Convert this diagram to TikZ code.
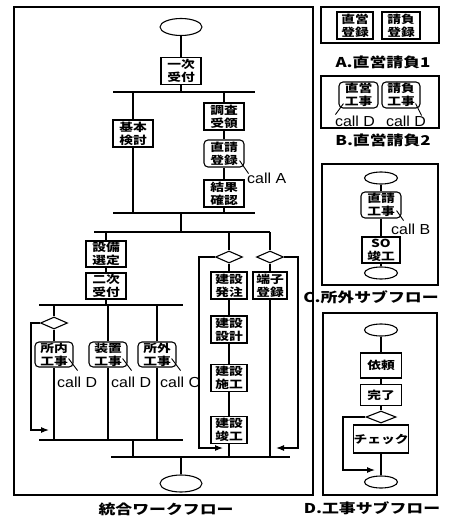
\documentclass[tikz,border=0pt]{standalone}
\usepackage{fontspec}
\usetikzlibrary{shapes.geometric,arrows.meta,calc}
\newfontfamily\jpfont[FakeStretch=1.25]{Noto Sans CJK JP}
\newfontfamily\latfont[FakeStretch=1.1]{Liberation Sans}
\newcommand\boxfont{\jpfont\bfseries\fontsize{11}{13}\selectfont}
\newcommand\callfont{\latfont\fontsize{14.5}{15}\selectfont}
\newcommand\capfont{\jpfont\bfseries\fontsize{13.5}{15}\selectfont}
\tikzset{
  ln/.style={line width=1.1pt},
  sl/.style={line width=0.9pt},
  bx/.style={draw, line width=1.1pt, fill=white, minimum width=40pt, minimum height=27pt, inner sep=0pt, align=center, font=\boxfont},
  rbx/.style={bx, rounded corners=4pt},
  el/.style={draw, ellipse, line width=1.1pt, minimum width=42pt, minimum height=17pt, inner sep=0pt, fill=white},
  sel/.style={el, minimum width=33pt, minimum height=12pt},
  dia/.style={draw, diamond, line width=1.1pt, minimum width=27pt, minimum height=12pt, inner sep=0pt, fill=white},
  calltxt/.style={font=\callfont, inner sep=0pt, anchor=west},
  captxt/.style={font=\capfont, inner sep=0pt},
  arr/.style={ln, -{Latex[length=8pt,width=6pt]}}
}
\begin{document}
\begin{tikzpicture}[x=1pt,y=-1pt]
\useasboundingbox (0,0) rectangle (449,519);
% ===== main frame =====
\draw[ln] (14,7) rectangle (313,495);
\node[captxt] (capmain) at (166,509) {統合ワークフロー};

\node[el] (s0) at (181,27) {};
\node[bx] (n1) at (181,71) {一次\\受付};
\coordinate (b1l) at (113,92); \coordinate (b1r) at (255,92);
\draw[ln] (b1l) -- (b1r);
\draw[ln] (s0) -- (n1) -- (n1|-b1l);

\node[bx] (kh) at (133,133.5) {基本\\検討};
\node[bx] (cs) at (224,116.5) {調査\\受領};
\node[rbx] (jk) at (224,153.5) {直請\\登録};
\node[bx] (kk) at (224,193.5) {結果\\確認};
\coordinate (b2l) at (113,213); \coordinate (b2r) at (255,213);
\draw[ln] (b2l) -- (b2r);
\draw[ln] (kh|-b1l) -- (kh) -- (kh|-b2l);
\draw[ln] (cs|-b1l) -- (cs) -- (jk) -- (kk) -- (kk|-b2l);
\node[calltxt] (ca) at (247,178) {call A};
\draw[sl] ($(jk.south east)+(-5,-7)$) -- ($(jk.south east)+(4,6)$);

\coordinate (b3l) at (94,232); \coordinate (b3r) at (270,232);
\draw[ln] (b3l) -- (b3r);
\draw[ln] (n1|-b2l) -- (n1|-b3l);

% left group
\node[bx, minimum height=26pt] (sb) at (106,254) {設備\\選定};
\node[bx, minimum height=26pt] (nj) at (106,286) {二次\\受付};
\coordinate (b4l) at (39,305); \coordinate (b4r) at (183,305);
\draw[ln] (b4l) -- (b4r);
\draw[ln] (sb|-b3l) -- (sb) -- (nj) -- (nj|-b4l);

\node[dia] (d1) at (54,323) {};
\node[rbx, minimum width=38pt, minimum height=25pt] (sn) at (54,354.5) {所内\\工事};
\node[rbx, minimum width=38pt, minimum height=25pt] (sc) at (108,354.5) {装置\\工事};
\node[rbx, minimum width=38pt, minimum height=25pt] (sg) at (157,354.5) {所外\\工事};
\coordinate (b5l) at (39,440); \coordinate (b5r) at (183,440);
\draw[ln] (b5l) -- (b5r);
\draw[ln] (d1|-b4l) -- (d1) -- (sn) -- (sn|-b5l);
\draw[ln] (sc|-b4l) -- (sc) -- (sc|-b5l);
\draw[ln] (sg|-b4l) -- (sg) -- (sg|-b5l);
\coordinate (l1a) at (31,323); \coordinate (l1b) at (31,430); \coordinate (l1c) at (49,430);
\draw[arr] (d1.west) -- (l1a) -- (l1b) -- (l1c);

\node[calltxt] (c1) at (57,382) {call D};
\node[calltxt] (c2) at (111,382) {call D};
\node[calltxt] (c3) at (160,382) {call C};
\draw[sl] ($(sn.south east)+(-5,-9)$) -- ($(sn.south east)+(4,3)$);
\draw[sl] ($(sc.south east)+(-5,-9)$) -- ($(sc.south east)+(4,3)$);
\draw[sl] ($(sg.south east)+(-5,-9)$) -- ($(sg.south east)+(4,3)$);

\coordinate (m5) at (133,440);
\coordinate (b6l) at (111,457); \coordinate (b6r) at (290,457);
\draw[ln] (b6l) -- (b6r);
\draw[ln] (m5) -- (m5|-b6l);
\node[el] (s1) at (181,483.5) {};
\draw[ln] (s1|-b6l) -- (s1);

% right group
\node[dia] (d2) at (229,257) {};
\node[dia] (d3) at (270,257) {};
\draw[ln] (d2|-b3l) -- (d2);
\draw[ln] (d3|-b3l) -- (d3);
\node[bx, minimum width=36pt] (hc) at (229,285.5) {建設\\発注};
\node[bx, minimum width=34pt] (ts) at (270,285.5) {端子\\登録};
\node[bx, minimum width=36pt] (sk) at (229,329.5) {建設\\設計};
\node[bx, minimum width=36pt] (sko) at (229,378) {建設\\施工};
\node[bx, minimum width=36pt] (sh) at (229,430) {建設\\竣工};
\draw[ln] (d2) -- (hc) -- (sk) -- (sko) -- (sh) -- (sh|-b6l);
\draw[ln] (d3) -- (ts) -- (ts|-b6l);
\coordinate (l2a) at (199,257); \coordinate (l2b) at (199,448); \coordinate (l2c) at (223,448);
\draw[arr] (d2.west) -- (l2a) -- (l2b) -- (l2c);
\coordinate (l3a) at (298,257); \coordinate (l3b) at (298,448); \coordinate (l3c) at (276,448);
\draw[arr] (d3.east) -- (l3a) -- (l3b) -- (l3c);

% ===== A =====
\draw[ln] (321,7) rectangle (439,43);
\node[bx, minimum width=36pt] (a1) at (355,25.5) {直営\\登録};
\node[bx, minimum width=38pt] (a2) at (401,25.5) {請負\\登録};
\node[captxt] (capa) at (383,62) {A.直営請負1};

% ===== B =====
\draw[ln] (321,76) rectangle (439,128);
\node[rbx, minimum width=39pt, minimum height=26pt] (bb1) at (358.5,95) {直営\\工事};
\node[rbx, minimum width=38pt, minimum height=26pt] (bb2) at (401,95) {請負\\工事};
\node[font=\callfont, inner sep=0pt] (bc1) at (355,121) {call D};
\node[font=\callfont, inner sep=0pt] (bc2) at (406,121) {call D};
\draw[sl] ($(bb1.south west)+(5,-5)$) -- ($(bb1.south west)+(-3,6)$);
\draw[sl] ($(bb2.south east)+(-5,-5)$) -- ($(bb2.south east)+(1,7)$);
\node[captxt] (capb) at (383,140) {B.直営請負2};

% ===== C =====
\draw[ln] (322,164) rectangle (438,285);
\node[sel] (ce1) at (381,178) {};
\node[rbx, minimum width=40pt, minimum height=26pt] (cj) at (381,205) {直請\\工事};
\node[bx, minimum width=38pt, minimum height=26pt] (cso) at (381,250) {SO\\竣工};
\node[sel] (ce2) at (381,273) {};
\draw[ln] (ce1) -- (cj) -- (cso) -- (ce2);
\node[calltxt] (cb) at (391,229) {call B};
\draw[sl] ($(cj.south east)+(-5,-8)$) -- ($(cj.south east)+(2,2)$);
\node[captxt] (capc) at (371,297) {C.所外サブフロー};

% ===== D =====
\draw[ln] (323,313) rectangle (437,495);
\node[sel] (de1) at (381,330) {};
\node[bx, minimum width=41pt, minimum height=25pt] (di) at (381,365.5) {依頼};
\node[bx, minimum width=41pt, minimum height=21pt] (dk) at (381,395) {完了};
\node[dia, minimum width=30pt] (dd) at (381,417) {};
\node[bx, minimum width=41pt, minimum height=28pt] (dc) at (381,439) {チェック};
\node[sel] (de2) at (381,482) {};
\draw[ln] (de1) -- (di) -- (dk) -- (dd) -- (dc) -- (de2);
\coordinate (l4a) at (343,417); \coordinate (l4b) at (343,470); \coordinate (l4c) at (375,470);
\draw[arr] (dd.west) -- (l4a) -- (l4b) -- (l4c);
\node[captxt] (capd) at (372,508) {D.工事サブフロー};
\end{tikzpicture}
\end{document}
